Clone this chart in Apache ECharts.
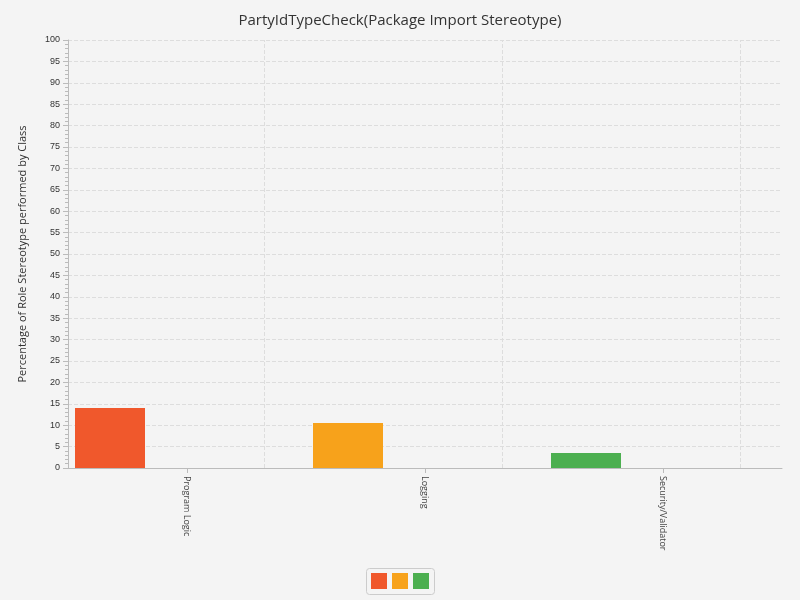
<!DOCTYPE html>
<html><head><meta charset="utf-8">
<script src="https://cdn.jsdelivr.net/npm/echarts@6/dist/echarts.min.js"></script>
<style>html,body{margin:0;background:#f4f4f4}#c{width:800px;height:600px}</style>
</head><body><div id="c"></div>
<script>
// categories and values
var categories = ['Program Logic', 'Logging', 'Security/Validator'];
var values = [14.0, 10.5, 3.5];
var colors = ['#f0582c', '#f7a21b', '#4caf50'];

var chart = echarts.init(document.getElementById('c'));
chart.setOption({
  backgroundColor: '#f4f4f4',
  title: { text: 'PartyIdTypeCheck(Package Import Stereotype)', left: 'center', top: 8,
    textStyle: { fontFamily: 'Open Sans', fontWeight: 'normal', fontSize: 15, color: '#333' } },
  grid: { left: 68, right: 18, top: 40, bottom: 132 },
  xAxis: { type: 'category', data: categories,
    axisLine: { lineStyle: { color: '#bbb' } },
    axisTick: { show: true, alignWithLabel: true, lineStyle: { color: '#bbb' } },
    axisLabel: { rotate: -90, fontSize: 9, color: '#444', fontFamily: 'Open Sans' },
    splitLine: { show: false } },
  yAxis: { type: 'value', min: 0, max: 100, interval: 5,
    name: 'Percentage of Role Stereotype performed by Class', nameLocation: 'middle', nameGap: 40,
    nameTextStyle: { fontSize: 11, color: '#333', fontFamily: 'Open Sans' },
    axisLine: { show: true, lineStyle: { color: '#bbb' } }, axisTick: { show: true, lineStyle: { color: '#bbb' } },
    minorTick: { show: true, splitNumber: 5, length: 3, lineStyle: { color: '#bbb' } },
    axisLabel: { fontSize: 9, color: '#333' },
    splitLine: { lineStyle: { color: '#ddd', type: 'dashed' } } },
  series: [
    { type: 'bar', barWidth: 70, barGap: '120%',
      data: values.map(function (v, i) { return { value: v, itemStyle: { color: colors[i] } }; }) },
    { type: 'bar', barWidth: 70, data: values.map(function () { return 0; }), itemStyle: { color: 'transparent' },
      markLine: { silent: true, symbol: 'none', label: { show: false },
        lineStyle: { color: '#ddd', type: 'dashed', width: 1 },
        data: categories.map(function (c) { return { xAxis: c }; }) } }
  ],
  graphic: [
    { type: 'rect', left: 366, top: 568, shape: { width: 68, height: 26, r: 3 }, style: { fill: '#f4f4f4', stroke: '#ccc' } }
  ].concat(colors.map(function (c, i) {
    return { type: 'rect', left: 371 + i * 21, top: 573, shape: { width: 16, height: 16 }, style: { fill: c } };
  }))
});
</script></body></html>
